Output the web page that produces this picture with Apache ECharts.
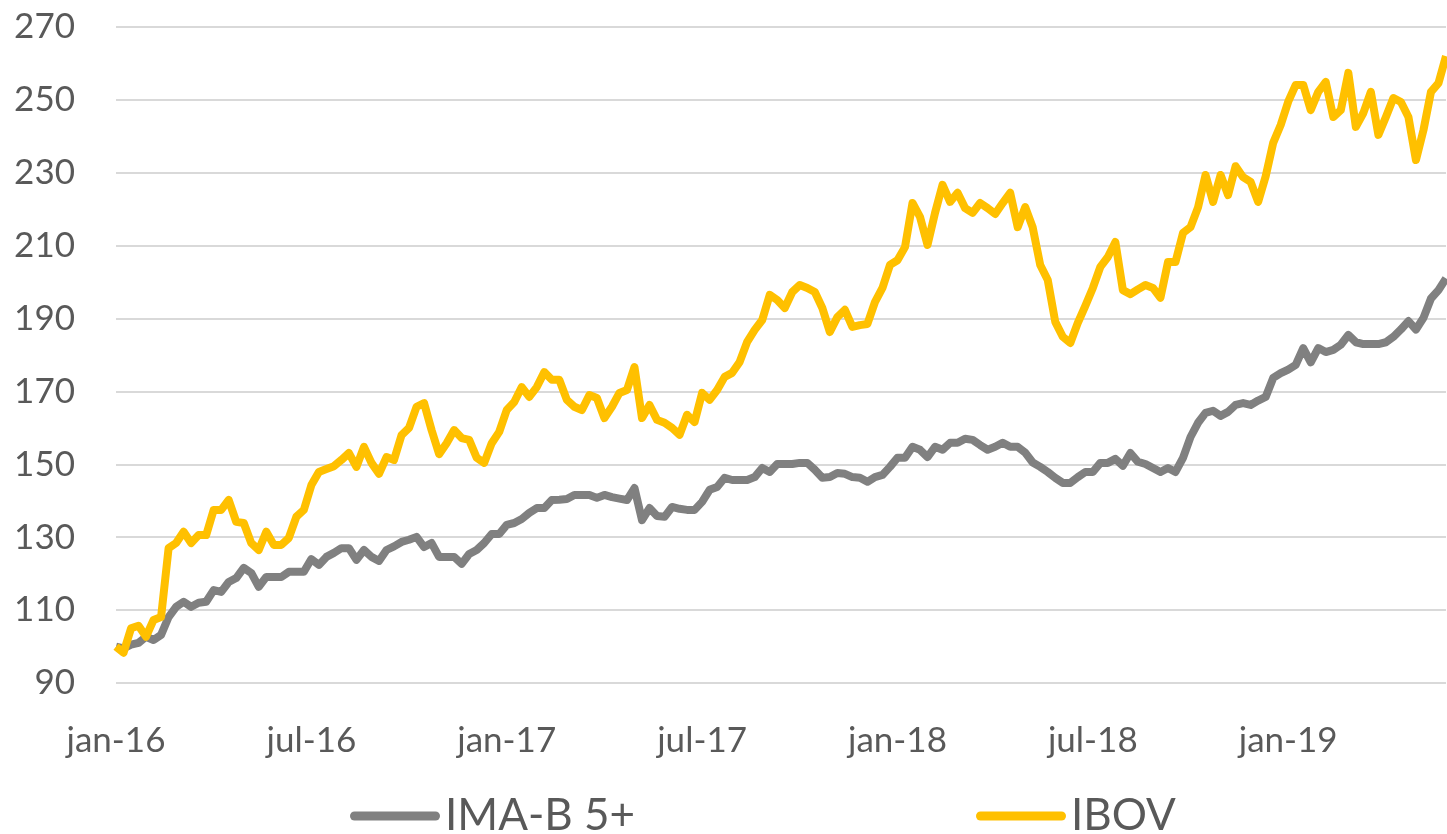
<!DOCTYPE html>
<html>
<head>
<meta charset="utf-8">
<script src="https://cdn.jsdelivr.net/npm/echarts@6/dist/echarts.min.js"></script>
<style>
html,body{margin:0;padding:0;background:#fff;}
#chart{width:1447px;height:834px;}
</style>
</head>
<body>
<div id="chart"></div>
<script>
// weekly observations, first week of January 2016 onwards
const startDate = '2016-01-01';
const weekCount = 178;
const tickLabels = ['jan-16','jul-16','jan-17','jul-17','jan-18','jul-18','jan-19'];
const seriesNames = ['IMA-B 5+', 'IBOV'];

const imab5 = [
  100, 99.5, 100.5, 101, 102.7, 101.8, 103.2, 108.1, 110.9, 112.3,
  110.9, 112, 112.3, 115.5, 115, 117.7, 118.8, 121.6, 120.2, 116.4,
  119.1, 119.1, 119.1, 120.5, 120.5, 120.5, 124, 122.4, 124.6, 125.7,
  127, 127, 123.8, 126.5, 124.6, 123.5, 126.5, 127.5, 128.7, 129.3,
  130.1, 127.3, 128.4, 124.6, 124.6, 124.6, 122.7, 125.4, 126.5, 128.4,
  130.9, 130.9, 133.4, 133.9, 135, 136.7, 138, 138, 140.2, 140.3,
  140.5, 141.6, 141.6, 141.6, 140.8, 141.6, 141, 140.6, 140.2, 143.5,
  134.7, 138, 135.8, 135.6, 138.3, 137.8, 137.5, 137.5, 139.7, 143,
  143.8, 146.3, 145.7, 145.7, 145.7, 146.5, 149, 147.9, 150.1, 150.1,
  150.1, 150.4, 150.4, 148.5, 146.3, 146.5, 147.6, 147.4, 146.5, 146.3,
  145.2, 146.5, 147.1, 149.3, 151.8, 151.8, 154.8, 154, 152, 154.8,
  154, 155.9, 155.9, 157, 156.7, 155.3, 154, 154.8, 155.9, 154.8,
  154.8, 153.2, 150.5, 149.3, 147.9, 146.3, 144.9, 144.9, 146.5, 147.9,
  147.9, 150.4, 150.4, 151.5, 149.6, 153.1, 150.7, 150.1, 149, 147.9,
  149, 147.9, 151.8, 157.5, 161.4, 164.1, 164.7, 163.3, 164.4, 166.3,
  166.8, 166.3, 167.5, 168.5, 173.7, 175, 176, 177.3, 181.9, 178,
  181.9, 180.8, 181.4, 182.8, 185.5, 183.5, 183, 183, 183, 183.5,
  185, 187, 189.3, 187, 190.2, 195.5, 197.8, 201
];

const ibov = [
  100, 98.3, 105, 105.7, 102.7, 107.3, 108.1, 127, 128.4, 131.5,
  128.4, 130.6, 130.6, 137.5, 137.5, 140.2, 134.2, 133.9, 128.4, 126.5,
  131.5, 127.9, 127.9, 129.8, 135.6, 137.5, 144.3, 147.9, 148.7, 149.5,
  151.2, 153.1, 149.3, 154.8, 150.4, 147.4, 152, 151.2, 158, 160,
  165.8, 166.8, 159.4, 152.8, 155.8, 159.4, 157.2, 156.7, 151.8, 150.4,
  155.8, 158.9, 164.9, 167.1, 171.2, 168.5, 171.2, 175.3, 173.2, 173.2,
  167.7, 165.8, 164.9, 169, 168.2, 162.7, 165.8, 169.6, 170.4, 176.7,
  162.7, 166.3, 162.2, 161.4, 160, 158.1, 163.6, 161.6, 169.6, 167.7,
  170.4, 174, 175.1, 178.1, 183.6, 186.9, 189.6, 196.5, 195.1, 192.9,
  197.3, 199.2, 198.4, 197.3, 192.9, 186.3, 190.4, 192.4, 187.7, 188.2,
  188.5, 194.5, 198.4, 204.7, 206, 209.6, 221.7, 217.9, 210.2, 219,
  226.7, 222, 224.5, 220.3, 219, 221.7, 220.3, 218.7, 221.7, 224.5,
  215.1, 220.6, 215, 204.7, 200.6, 189.1, 185, 183.3, 188.8, 193.5,
  198.4, 204.2, 206.9, 211, 197.8, 196.7, 198, 199.2, 198.4, 195.7,
  205.5, 205.5, 213.5, 215.1, 220.5, 229.4, 222, 229.4, 223.9, 231.8,
  228.8, 227.5, 222, 229, 238.2, 243.1, 249.5, 254.1, 254.1, 247.2,
  252.2, 254.9, 245.3, 247.2, 257.4, 242.6, 246.4, 252.2, 240.4, 245.3,
  250.5, 249.4, 245.3, 233.5, 241.7, 252.2, 254.6, 262
];

// category list: one entry per week
const weeks = [];
{
  const d0 = new Date(startDate + 'T00:00:00Z');
  for (let i = 0; i < weekCount; i++) {
    const d = new Date(d0.getTime() + i * 7 * 86400000);
    weeks.push(d.toISOString().slice(0, 10));
  }
}

const FONT = 'Lato';
const TXT = '#595959';
const pill = 'path://M4.5,0 L85.5,0 A4.5,4.5 0 0 1 85.5,9 L4.5,9 A4.5,4.5 0 0 1 4.5,0 Z';

const chart = echarts.init(document.getElementById('chart'), null, {renderer: 'canvas'});
chart.setOption({
  animation: false,
  backgroundColor: '#ffffff',
  grid: {left: 116, right: 1, top: 27, bottom: 151, containLabel: false},
  legend: [
    {
      data: [seriesNames[0]], left: 350, top: 794, padding: 0,
      icon: pill, itemWidth: 90, itemHeight: 9, itemGap: 0,
      textStyle: {fontFamily: FONT, fontSize: 44, color: TXT, lineHeight: 44}
    },
    {
      data: [seriesNames[1]], left: 976, top: 794, padding: 0,
      icon: pill, itemWidth: 90, itemHeight: 9, itemGap: 0,
      textStyle: {fontFamily: FONT, fontSize: 44, color: TXT, lineHeight: 44}
    }
  ],
  xAxis: {
    type: 'category',
    data: weeks,
    boundaryGap: false,
    axisLine: {show: false},
    axisTick: {show: false},
    splitLine: {show: false},
    axisLabel: {
      interval: 25,
      margin: 40,
      fontFamily: FONT, fontSize: 35, color: TXT,
      formatter: function (value, index) {
        return index % 26 === 0 ? (tickLabels[index / 26] || '') : '';
      }
    }
  },
  yAxis: {
    type: 'value',
    min: 90, max: 270, interval: 20,
    axisLine: {show: false},
    axisTick: {show: false},
    axisLabel: {margin: 41, fontFamily: FONT, fontSize: 35, color: TXT},
    splitLine: {lineStyle: {color: '#d9d9d9', width: 2}}
  },
  series: [
    {
      name: seriesNames[0], type: 'line', data: imab5,
      showSymbol: false, symbol: 'none',
      lineStyle: {color: '#808080', width: 8, cap: 'butt', join: 'round'},
      itemStyle: {color: '#808080'}
    },
    {
      name: seriesNames[1], type: 'line', data: ibov,
      showSymbol: false, symbol: 'none',
      lineStyle: {color: '#FFC000', width: 8, cap: 'butt', join: 'round'},
      itemStyle: {color: '#FFC000'}
    }
  ]
});
</script>
</body>
</html>
